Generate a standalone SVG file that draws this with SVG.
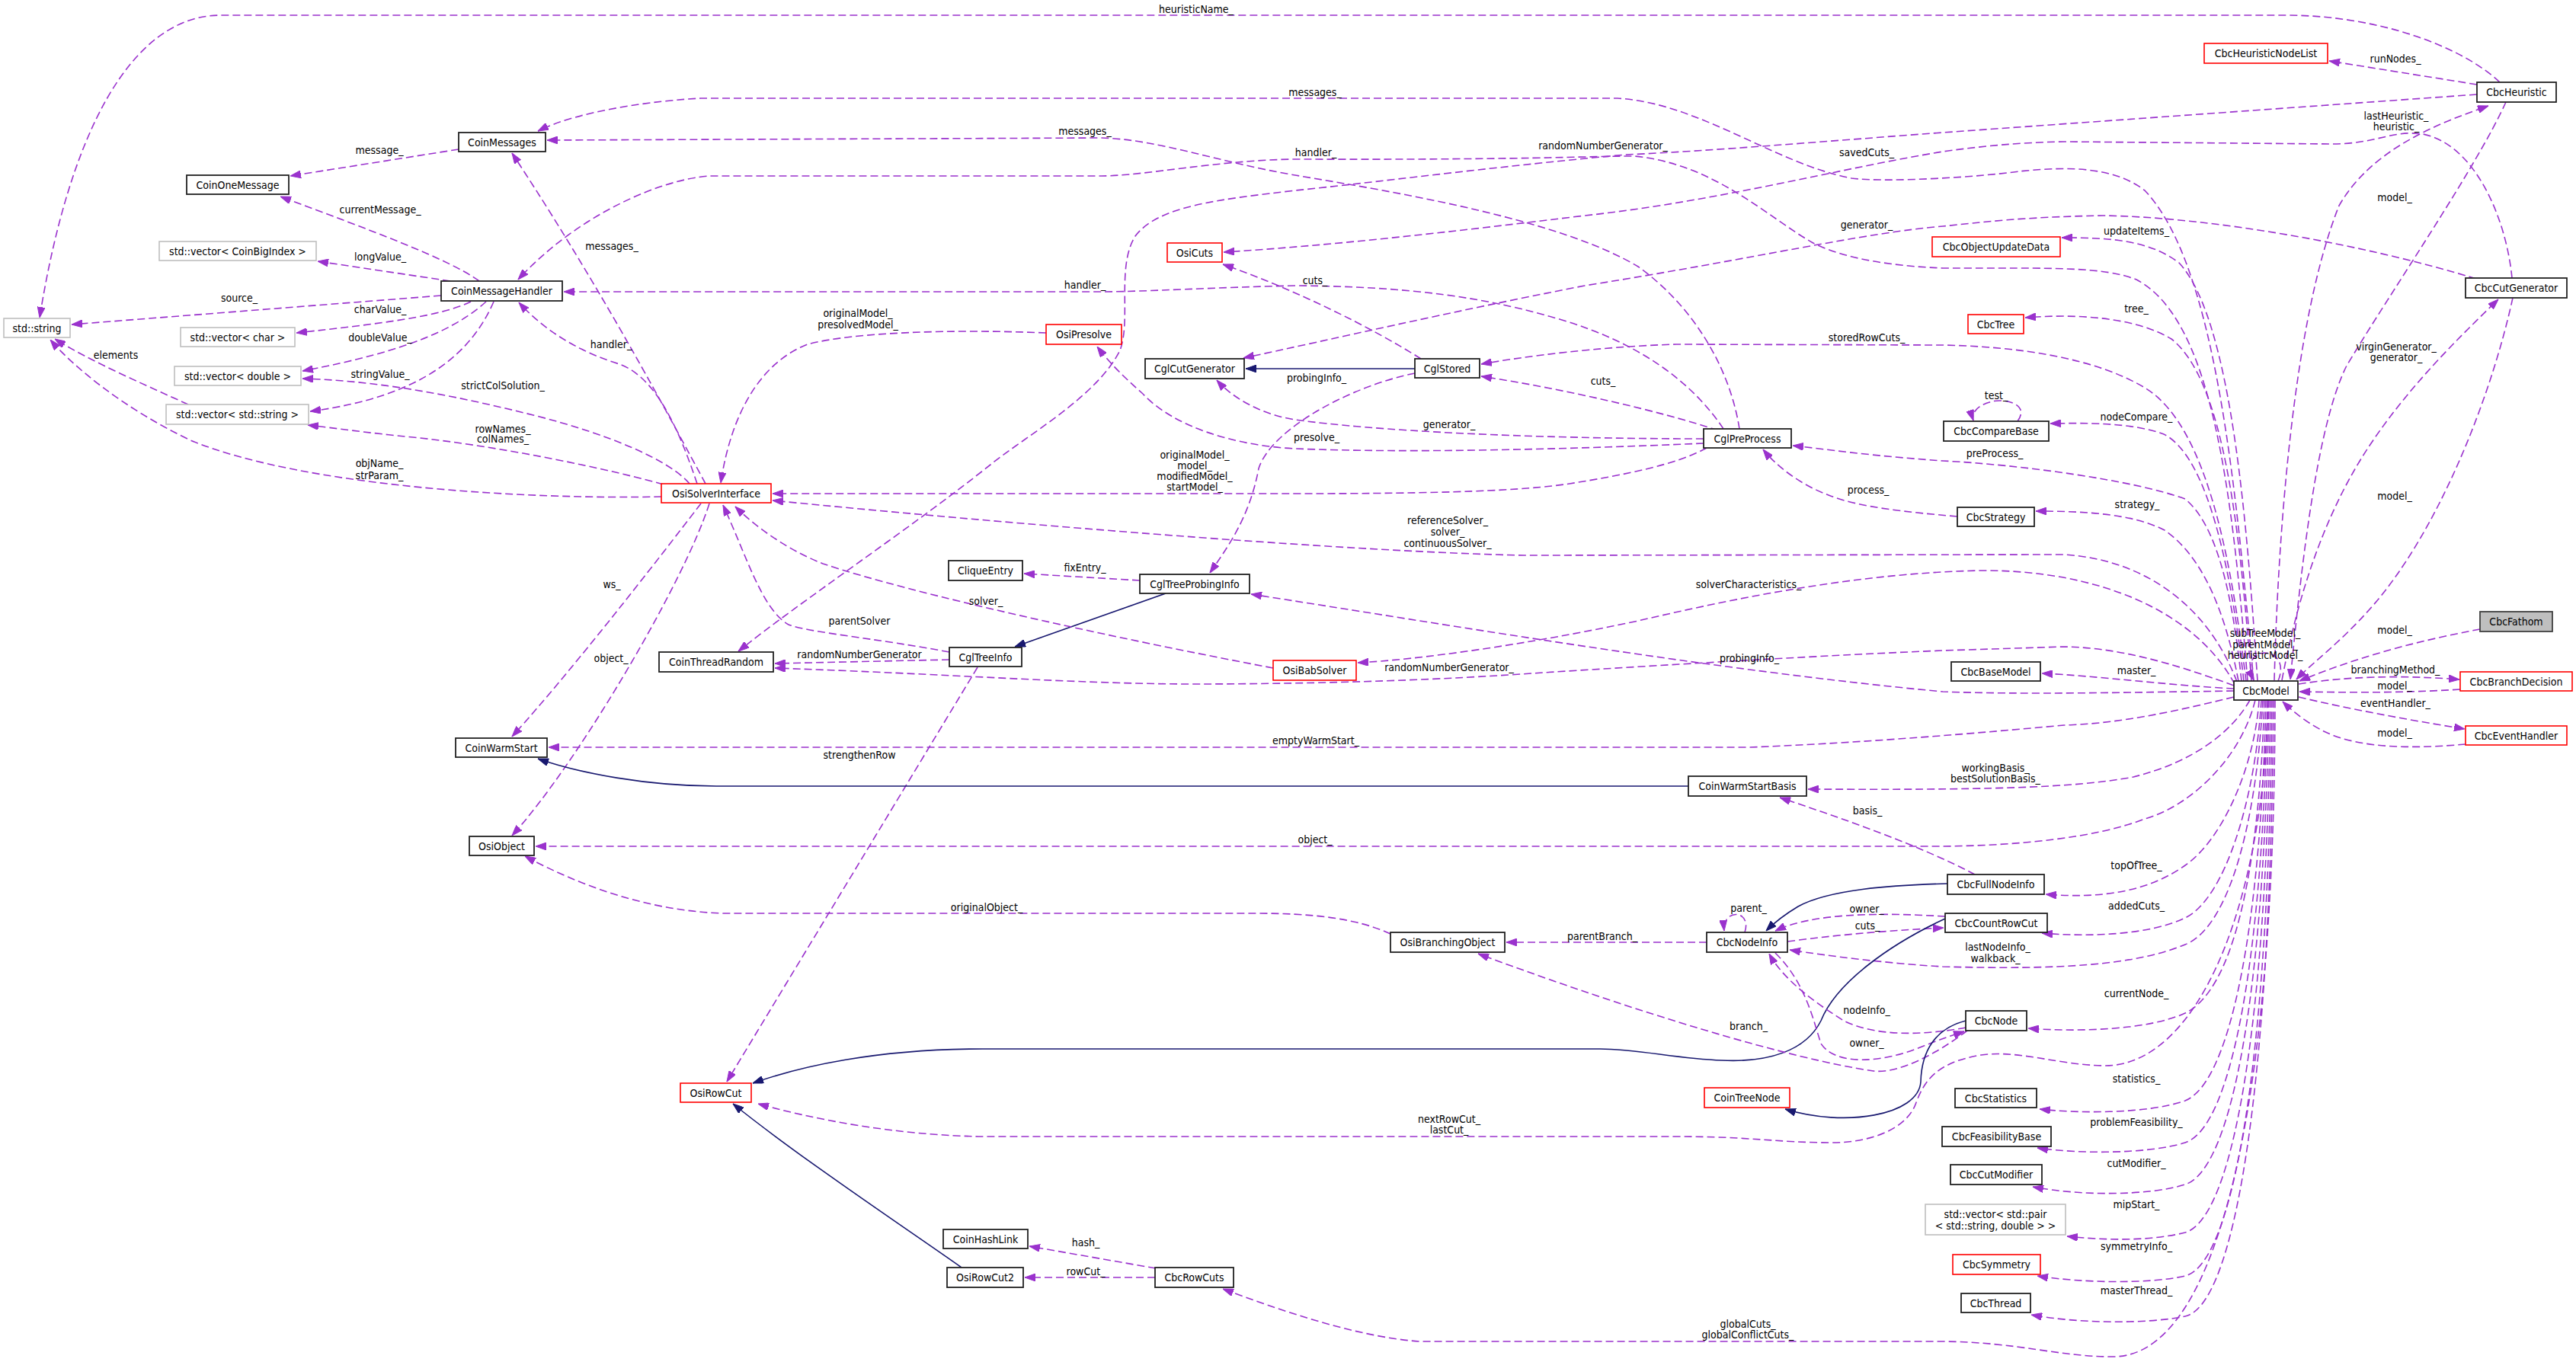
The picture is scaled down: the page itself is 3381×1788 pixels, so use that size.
<svg xmlns="http://www.w3.org/2000/svg" width="3381" height="1788" viewBox="0 0 3381 1788">
<defs>
<style>
text{font-family:'DejaVu Sans Condensed','DejaVu Sans',sans-serif;font-stretch:condensed;font-size:14px;text-anchor:middle;fill:#000}
.d{fill:none;stroke:#9a32cd;stroke-width:1.6;stroke-dasharray:10,5;marker-end:url(#ap)}
.n{fill:none;stroke:#191970;stroke-width:1.6;marker-end:url(#an)}
.b{fill:#fff;stroke:#222;stroke-width:1.8}
.r{fill:#fff;stroke:#ff0000;stroke-width:1.6}
.g{fill:#fff;stroke:#bfbfbf;stroke-width:1.6}
.f{fill:#bfbfbf;stroke:#404040;stroke-width:1.8}
</style>
<marker id="ap" viewBox="0 0 14 10" refX="14" refY="5" markerWidth="14" markerHeight="10" markerUnits="userSpaceOnUse" orient="auto"><path d="M0,0 L14,5 L0,10 z" fill="#9a32cd" stroke="#9a32cd"/></marker>
<marker id="an" viewBox="0 0 14 10" refX="14" refY="5" markerWidth="14" markerHeight="10" markerUnits="userSpaceOnUse" orient="auto"><path d="M0,0 L14,5 L0,10 z" fill="#191970" stroke="#191970"/></marker>
</defs>
<rect width="3381" height="1788" fill="#fff"/>
<g id="connectors">
<path class="d" d="M3281 108 C3230 60,3120 20,3000 20 L290 20 C170 20,90 180,52 417"/>
<path class="d" d="M3251 111 L3057 80"/>
<path class="d" d="M3251 124 L2550 174 C2400 185,2250 198,2134 203 C1950 220,1800 240,1700 250 C1600 262,1520 270,1490 310 C1465 350,1485 420,1470 460 C1440 520,1350 570,1300 610 C1200 690,1050 790,969 855"/>
<path class="d" d="M3297 365 C3290 290,3250 190,3180 176 C3140 170,3120 189,3060 189 L2709 186 C2650 187,2600 192,2550 199 C2420 220,2250 265,2080 283 C1900 305,1750 322,1606 331"/>
<path class="d" d="M3250 366 C3100 320,2900 285,2760 283 C2650 285,2600 292,2550 297 C2450 305,2300 340,2080 375 C1900 410,1750 445,1632 470"/>
<path class="d" d="M2958 894 C2935 650,2910 350,2815 250 C2770 215,2700 220,2650 225 C2600 232,2480 240,2430 234 C2330 215,2230 135,2123 129 L920 129 C860 132,760 145,706 172"/>
<path class="d" d="M2950 894 C2930 650,2905 420,2804 367 C2760 350,2700 352,2550 352 C2450 348,2400 330,2378 318 C2320 285,2250 215,2145 205 C2080 205,2000 210,1700 209 C1600 210,1500 231,1446 231 L931 231 C870 235,760 280,680 367"/>
<path class="d" d="M2963 894 C2950 700,2930 420,2860 345 C2820 315,2770 312,2706 312"/>
<path class="d" d="M2955 894 C2940 700,2920 500,2850 445 C2800 415,2720 412,2658 417"/>
<path class="d" d="M2948 894 C2930 750,2900 560,2815 509 C2750 470,2650 455,2550 453 L2200 452 C2100 455,2000 468,1944 478"/>
<path class="d" d="M2945 894 C2930 760,2900 600,2840 570 C2800 555,2740 555,2691 556"/>
<path class="d" d="M2942 894 C2930 780,2910 690,2868 655 C2800 630,2650 610,2550 605 C2450 598,2400 590,2353 585"/>
<path class="d" d="M2938 894 C2920 800,2890 730,2841 696 C2800 675,2740 671,2672 671"/>
<path class="d" d="M2936 895 C2900 800,2820 735,2709 728 L2000 729 C1800 725,1400 695,1014 657"/>
<path class="d" d="M2933 898 C2880 800,2750 748,2600 749 C2450 752,2300 780,2150 815 C2000 847,1860 866,1782 870"/>
<path class="d" d="M2932 907 C2800 909,2650 912,2550 908 C2250 880,1900 820,1642 780"/>
<path class="d" d="M2932 900 C2850 870,2780 850,2709 849 L2550 854 C2400 860,2200 872,2025 883 C1900 892,1750 898,1555 898 C1400 897,1250 885,1017 877"/>
<path class="d" d="M2932 904 C2850 900,2750 887,2680 884"/>
<path class="d" d="M2932 915 C2850 935,2780 950,2709 952 C2600 962,2450 975,2296 981 L720 981"/>
<path class="d" d="M2953 919 C2930 960,2880 1000,2800 1020 C2720 1035,2600 1037,2373 1036"/>
<path class="d" d="M2960 919 C2940 1000,2870 1060,2815 1075 C2750 1100,2650 1110,2550 1111 L703 1111"/>
<path class="d" d="M2965 919 C2960 1000,2920 1100,2868 1136 C2820 1170,2760 1180,2685 1174"/>
<path class="d" d="M2968 919 C2960 1050,2920 1180,2868 1205 C2820 1228,2740 1230,2680 1225"/>
<path class="d" d="M2970 919 C2960 1100,2920 1220,2868 1240 C2800 1268,2700 1273,2550 1269 C2480 1265,2400 1255,2349 1247"/>
<path class="d" d="M2972 919 C2965 1150,2930 1300,2868 1330 C2820 1352,2730 1355,2662 1350"/>
<path class="d" d="M2974 919 C2968 1200,2930 1420,2868 1445 C2820 1462,2730 1462,2677 1456"/>
<path class="d" d="M2976 919 C2970 1250,2930 1480,2868 1500 C2820 1515,2730 1515,2674 1507"/>
<path class="d" d="M2978 919 C2972 1300,2930 1535,2868 1555 C2820 1570,2730 1570,2668 1558"/>
<path class="d" d="M2980 919 C2975 1350,2930 1600,2868 1618 C2820 1630,2760 1628,2713 1623"/>
<path class="d" d="M2982 919 C2978 1400,2930 1660,2868 1675 C2820 1686,2730 1684,2674 1675"/>
<path class="d" d="M2984 919 C2980 1450,2930 1715,2868 1728 C2820 1738,2730 1738,2666 1726"/>
<path class="d" d="M2986 919 C2985 1500,2900 1782,2773 1781 C2700 1781,2650 1762,2550 1761 L1863 1761 C1780 1755,1680 1720,1605 1692"/>
<path class="d" d="M2977 919 C2970 1200,2880 1400,2762 1399 C2700 1398,2650 1378,2600 1385 C2540 1395,2525 1420,2514 1450 C2500 1485,2450 1500,2405 1500 C2330 1500,2300 1492,2200 1492 L1284 1492 C1200 1490,1100 1478,995 1449"/>
<path class="d" d="M2985 893 C2990 700,3010 420,3070 270 C3110 200,3190 165,3266 139"/>
<path class="d" d="M3289 134 C3250 220,3140 380,3080 480 C3040 560,3020 750,3006 892"/>
<path class="d" d="M2995 893 C3020 760,3060 660,3110 585 C3160 510,3220 450,3279 393"/>
<path class="d" d="M3298 391 C3270 520,3200 700,3110 800 C3070 845,3035 870,3014 892"/>
<path class="d" d="M3255 826 C3180 840,3100 860,3018 894"/>
<path class="d" d="M3017 898 C3080 888,3150 886,3228 892"/>
<path class="d" d="M3229 905 C3150 910,3080 909,3018 908"/>
<path class="d" d="M3017 915 C3080 930,3160 945,3235 957"/>
<path class="d" d="M3236 977 C3180 982,3100 985,3050 960 C3030 950,3010 935,2996 921"/>
<path class="d" d="M2990 894 C3010 845,2935 845,2958 893"/>
<path class="d" d="M2648 553 C2665 530,2630 523,2615 527 C2600 530,2586 540,2590 552"/>
<path class="d" d="M2569 678 C2500 672,2440 666,2400 650 C2360 635,2330 610,2314 590"/>
<path class="d" d="M2283 563 C2270 480,2220 400,2150 350 C2050 290,1850 255,1700 230 C1600 213,1520 183,1446 181 L718 184"/>
<path class="d" d="M2262 563 C2220 500,2150 450,2050 420 C1950 390,1850 376,1700 375 C1600 377,1500 383,1446 383 L740 383"/>
<path class="d" d="M2255 565 C2180 540,2050 510,1944 494"/>
<path class="d" d="M2236 576 C2000 576,1800 565,1700 551 C1660 545,1620 525,1597 499"/>
<path class="d" d="M2236 582 C2050 590,1850 595,1700 589 C1620 585,1540 560,1500 517 C1475 495,1455 475,1440 455"/>
<path class="d" d="M2240 588 C2200 610,2134 623,2060 635 C2000 644,1900 648,1700 648 L1014 648"/>
<path class="d" d="M1865 471 C1800 430,1700 380,1605 347"/>
<path class="n" d="M1857 484 L1635 484"/>
<path class="d" d="M1857 490 C1780 505,1670 560,1652 615 C1640 680,1610 720,1588 752"/>
<path class="n" d="M1530 779 L1332 849"/>
<path class="d" d="M1496 762 L1344 753"/>
<path class="d" d="M1246 856 C1150 838,1060 830,1035 820 C1000 800,980 730,949 663"/>
<path class="d" d="M1246 866 L1017 871"/>
<path class="d" d="M1283 876 L954 1420"/>
<path class="d" d="M1671 877 C1450 835,1200 780,1080 740 C1030 720,990 690,965 665"/>
<path class="d" d="M1373 437 C1250 432,1120 436,1060 452 C1000 475,960 540,946 634"/>
<path class="d" d="M926 635 C880 550,790 380,672 201"/>
<path class="d" d="M915 635 C890 560,860 495,813 478 C770 465,720 440,681 397"/>
<path class="d" d="M905 635 C880 605,800 570,700 545 C600 520,500 500,397 497"/>
<path class="d" d="M885 640 C800 615,650 585,542 574 C480 568,440 562,404 558"/>
<path class="d" d="M868 652 C700 656,400 640,250 578 C160 535,95 480,66 446"/>
<path class="d" d="M920 661 C890 700,760 870,672 967"/>
<path class="d" d="M931 661 C900 760,760 1000,672 1097"/>
<path class="d" d="M602 196 L381 231"/>
<path class="d" d="M629 369 C590 340,480 300,368 258"/>
<path class="d" d="M591 369 L417 343"/>
<path class="d" d="M579 388 L94 426"/>
<path class="d" d="M618 396 C580 415,500 425,389 437"/>
<path class="d" d="M638 396 C600 430,540 460,397 487"/>
<path class="d" d="M648 396 C620 460,560 520,407 540"/>
<path class="d" d="M247 531 C190 505,120 475,72 445"/>
<path class="n" d="M2216 1032 L940 1032 C850 1032,760 1015,706 996"/>
<path class="d" d="M2592 1148 C2520 1110,2420 1075,2336 1047"/>
<path class="n" d="M2556 1160 C2480 1162,2400 1168,2360 1190 C2340 1202,2328 1212,2318 1222"/>
<path class="d" d="M2240 1237 L1977 1237"/>
<path class="d" d="M2290 1224 C2300 1194,2260 1192,2263 1222"/>
<path class="d" d="M2346 1236 C2420 1226,2490 1221,2551 1218"/>
<path class="d" d="M2553 1203 C2470 1198,2380 1198,2330 1222"/>
<path class="n" d="M2553 1206 C2480 1240,2410 1290,2390 1340 C2370 1380,2320 1395,2260 1392 C2200 1390,2150 1377,2100 1377 L1290 1377 C1150 1377,1050 1400,988 1422"/>
<path class="d" d="M2580 1349 C2520 1360,2460 1360,2420 1340 C2380 1315,2340 1285,2322 1252"/>
<path class="d" d="M2330 1251 C2370 1290,2380 1340,2390 1370 C2410 1400,2470 1395,2520 1375 C2545 1365,2560 1360,2578 1354"/>
<path class="d" d="M2582 1353 C2540 1385,2490 1410,2459 1406 C2350 1390,2150 1330,1940 1252"/>
<path class="n" d="M2580 1340 C2540 1350,2522 1380,2521 1420 C2518 1465,2420 1480,2343 1456"/>
<path class="d" d="M1825 1226 C1780 1205,1720 1199,1650 1199 L950 1199 C850 1196,760 1162,689 1124"/>
<path class="n" d="M1262 1664 C1200 1620,1050 1520,962 1449"/>
<path class="d" d="M1517 1665 L1351 1636"/>
<path class="d" d="M1516 1677 L1345 1677"/>
<text x="1570" y="17">heuristicName_</text>
<text x="3144" y="82">runNodes_</text>
<text x="1726" y="126">messages_</text>
<text x="3145" y="157">lastHeuristic_</text>
<text x="3145" y="171">heuristic_</text>
<text x="1424" y="177">messages_</text>
<text x="498" y="202">message_</text>
<text x="2104" y="196">randomNumberGenerator_</text>
<text x="1727" y="205">handler_</text>
<text x="2450" y="205">savedCuts_</text>
<text x="3143" y="264">model_</text>
<text x="499" y="280">currentMessage_</text>
<text x="2450" y="300">generator_</text>
<text x="2804" y="308">updateItems_</text>
<text x="803" y="328">messages_</text>
<text x="499" y="342">longValue_</text>
<text x="1726" y="373">cuts_</text>
<text x="1424" y="379">handler_</text>
<text x="314" y="396">source_</text>
<text x="2804" y="410">tree_</text>
<text x="499" y="411">charValue_</text>
<text x="1126" y="416">originalModel_</text>
<text x="1126" y="431">presolvedModel_</text>
<text x="499" y="448">doubleValue_</text>
<text x="2450" y="448">storedRowCuts_</text>
<text x="802" y="457">handler_</text>
<text x="3145" y="460">virginGenerator_</text>
<text x="3145" y="474">generator_</text>
<text x="152" y="471">elements</text>
<text x="499" y="496">stringValue_</text>
<text x="1728" y="501">probingInfo_</text>
<text x="2104" y="505">cuts_</text>
<text x="660" y="511">strictColSolution_</text>
<text x="2620" y="524">test_</text>
<text x="2804" y="552">nodeCompare_</text>
<text x="1902" y="562">generator_</text>
<text x="660" y="568">rowNames_</text>
<text x="660" y="581">colNames_</text>
<text x="1728" y="579">presolve_</text>
<text x="2618" y="600">preProcess_</text>
<text x="1568" y="602">originalModel_</text>
<text x="1568" y="616">model_</text>
<text x="1568" y="630">modifiedModel_</text>
<text x="1568" y="644">startModel_</text>
<text x="498" y="613">objName_</text>
<text x="498" y="629">strParam_</text>
<text x="2452" y="648">process_</text>
<text x="3143" y="656">model_</text>
<text x="2805" y="667">strategy_</text>
<text x="1900" y="688">referenceSolver_</text>
<text x="1900" y="703">solver_</text>
<text x="1900" y="718">continuousSolver_</text>
<text x="1424" y="750">fixEntry_</text>
<text x="803" y="772">ws_</text>
<text x="2295" y="772">solverCharacteristics_</text>
<text x="1294" y="794">solver_</text>
<text x="1128" y="820">parentSolver</text>
<text x="3143" y="832">model_</text>
<text x="2973" y="836">subTreeModel_</text>
<text x="2973" y="851">parentModel_</text>
<text x="2973" y="865">heuristicModel_</text>
<text x="1128" y="864">randomNumberGenerator</text>
<text x="2296" y="869">probingInfo_</text>
<text x="802" y="869">object_</text>
<text x="1902" y="881">randomNumberGenerator_</text>
<text x="3144" y="884">branchingMethod_</text>
<text x="2804" y="885">master_</text>
<text x="3143" y="905">model_</text>
<text x="3144" y="928">eventHandler_</text>
<text x="3143" y="967">model_</text>
<text x="1727" y="977">emptyWarmStart_</text>
<text x="1128" y="996">strengthenRow</text>
<text x="2619" y="1013">workingBasis_</text>
<text x="2619" y="1027">bestSolutionBasis_</text>
<text x="2451" y="1069">basis_</text>
<text x="1726" y="1107">object_</text>
<text x="2804" y="1141">topOfTree_</text>
<text x="2804" y="1194">addedCuts_</text>
<text x="1295" y="1196">originalObject_</text>
<text x="2295" y="1197">parent_</text>
<text x="2450" y="1198">owner_</text>
<text x="2451" y="1220">cuts_</text>
<text x="2103" y="1234">parentBranch_</text>
<text x="2622" y="1248">lastNodeInfo_</text>
<text x="2619" y="1263">walkback_</text>
<text x="2804" y="1309">currentNode_</text>
<text x="2450" y="1331">nodeInfo_</text>
<text x="2295" y="1352">branch_</text>
<text x="2450" y="1374">owner_</text>
<text x="2804" y="1421">statistics_</text>
<text x="1902" y="1474">nextRowCut_</text>
<text x="1902" y="1488">lastCut_</text>
<text x="2804" y="1478">problemFeasibility_</text>
<text x="2804" y="1532">cutModifier_</text>
<text x="2804" y="1586">mipStart_</text>
<text x="1425" y="1636">hash_</text>
<text x="2804" y="1641">symmetryInfo_</text>
<text x="1425" y="1674">rowCut_</text>
<text x="2804" y="1699">masterThread_</text>
<text x="2294" y="1743">globalCuts_</text>
<text x="2294" y="1757">globalConflictCuts_</text>
</g>
<g id="CbcFathom"><rect class="f" x="3255" y="803" width="95" height="26"/><text x="3302.5" y="821">CbcFathom</text></g>
<g id="CbcModel"><rect class="b" x="2932" y="894" width="84" height="25"/><text x="2974" y="911.5">CbcModel</text></g>
<g id="CbcHeuristic"><rect class="b" x="3251" y="108" width="104" height="26"/><text x="3303" y="126">CbcHeuristic</text></g>
<g id="CbcHeuristicNodeList"><rect class="r" x="2893" y="57" width="162" height="26"/><text x="2974" y="75">CbcHeuristicNodeList</text></g>
<g id="CbcCutGenerator"><rect class="b" x="3236" y="365" width="133" height="26"/><text x="3302.5" y="383">CbcCutGenerator</text></g>
<g id="CbcObjectUpdateData"><rect class="r" x="2536" y="311" width="168" height="26"/><text x="2620" y="329">CbcObjectUpdateData</text></g>
<g id="CbcTree"><rect class="r" x="2583" y="413" width="73" height="25"/><text x="2619.5" y="430.5">CbcTree</text></g>
<g id="CbcCompareBase"><rect class="b" x="2551" y="553" width="138" height="26"/><text x="2620" y="571">CbcCompareBase</text></g>
<g id="CbcStrategy"><rect class="b" x="2569" y="666" width="101" height="25"/><text x="2619.5" y="683.5">CbcStrategy</text></g>
<g id="CbcBaseModel"><rect class="b" x="2561" y="869" width="117" height="25"/><text x="2619.5" y="886.5">CbcBaseModel</text></g>
<g id="CbcBranchDecision"><rect class="r" x="3229" y="882" width="147" height="25"/><text x="3302.5" y="899.5">CbcBranchDecision</text></g>
<g id="CbcEventHandler"><rect class="r" x="3236" y="953" width="133" height="25"/><text x="3302.5" y="970.5">CbcEventHandler</text></g>
<g id="CbcFullNodeInfo"><rect class="b" x="2556" y="1148" width="127" height="26"/><text x="2619.5" y="1166">CbcFullNodeInfo</text></g>
<g id="CbcCountRowCut"><rect class="b" x="2553" y="1199" width="134" height="25"/><text x="2620" y="1216.5">CbcCountRowCut</text></g>
<g id="CbcNode"><rect class="b" x="2580" y="1327" width="80" height="26"/><text x="2620" y="1345">CbcNode</text></g>
<g id="CbcStatistics"><rect class="b" x="2566" y="1429" width="107" height="25"/><text x="2619.5" y="1446.5">CbcStatistics</text></g>
<g id="CbcFeasibilityBase"><rect class="b" x="2549" y="1479" width="143" height="26"/><text x="2620.5" y="1497">CbcFeasibilityBase</text></g>
<g id="CbcCutModifier"><rect class="b" x="2560" y="1529" width="120" height="26"/><text x="2620" y="1547">CbcCutModifier</text></g>
<g id="StdVectorPair"><rect class="g" x="2527" y="1581" width="184" height="40"/><text x="2619" y="1598.5">std::vector&lt; std::pair</text><text x="2619" y="1613.5">&lt; std::string, double &gt; &gt;</text></g>
<g id="CbcSymmetry"><rect class="r" x="2563" y="1647" width="115" height="26"/><text x="2620.5" y="1665">CbcSymmetry</text></g>
<g id="CbcThread"><rect class="b" x="2574" y="1698" width="91" height="25"/><text x="2619.5" y="1715.5">CbcThread</text></g>
<g id="CoinWarmStartBasis"><rect class="b" x="2216" y="1019" width="155" height="26"/><text x="2293.5" y="1037">CoinWarmStartBasis</text></g>
<g id="CbcNodeInfo"><rect class="b" x="2240" y="1224" width="106" height="26"/><text x="2293" y="1242">CbcNodeInfo</text></g>
<g id="OsiBranchingObject"><rect class="b" x="1825" y="1224" width="150" height="26"/><text x="1900" y="1242">OsiBranchingObject</text></g>
<g id="CoinTreeNode"><rect class="r" x="2237" y="1428" width="112" height="26"/><text x="2293" y="1446">CoinTreeNode</text></g>
<g id="CglPreProcess"><rect class="b" x="2236" y="563" width="115" height="25"/><text x="2293.5" y="580.5">CglPreProcess</text></g>
<g id="CglStored"><rect class="b" x="1857" y="471" width="85" height="25"/><text x="1899.5" y="488.5">CglStored</text></g>
<g id="CglCutGenerator"><rect class="b" x="1503" y="471" width="130" height="26"/><text x="1568" y="489">CglCutGenerator</text></g>
<g id="OsiCuts"><rect class="r" x="1532" y="319" width="72" height="25"/><text x="1568" y="336.5">OsiCuts</text></g>
<g id="OsiPresolve"><rect class="r" x="1373" y="426" width="99" height="26"/><text x="1422.5" y="444">OsiPresolve</text></g>
<g id="CglTreeProbingInfo"><rect class="b" x="1496" y="754" width="144" height="25"/><text x="1568" y="771.5">CglTreeProbingInfo</text></g>
<g id="CliqueEntry"><rect class="b" x="1245" y="736" width="97" height="26"/><text x="1293.5" y="754">CliqueEntry</text></g>
<g id="CglTreeInfo"><rect class="b" x="1246" y="850" width="95" height="25"/><text x="1293.5" y="867.5">CglTreeInfo</text></g>
<g id="OsiBabSolver"><rect class="r" x="1671" y="867" width="109" height="26"/><text x="1725.5" y="885">OsiBabSolver</text></g>
<g id="OsiSolverInterface"><rect class="r" x="868" y="635" width="144" height="25"/><text x="940" y="652.5">OsiSolverInterface</text></g>
<g id="CoinThreadRandom"><rect class="b" x="865" y="856" width="150" height="26"/><text x="940" y="874">CoinThreadRandom</text></g>
<g id="CoinMessages"><rect class="b" x="602" y="174" width="114" height="25"/><text x="659" y="191.5">CoinMessages</text></g>
<g id="CoinOneMessage"><rect class="b" x="245" y="230" width="134" height="25"/><text x="312" y="247.5">CoinOneMessage</text></g>
<g id="CoinMessageHandler"><rect class="b" x="579" y="369" width="159" height="26"/><text x="658.5" y="387">CoinMessageHandler</text></g>
<g id="StdVectorCoinBigIndex"><rect class="g" x="209" y="317" width="206" height="25"/><text x="312" y="334.5">std::vector&lt; CoinBigIndex &gt;</text></g>
<g id="StdString"><rect class="g" x="5" y="418" width="87" height="25"/><text x="48.5" y="435.5">std::string</text></g>
<g id="StdVectorChar"><rect class="g" x="237" y="430" width="150" height="25"/><text x="312" y="447.5">std::vector&lt; char &gt;</text></g>
<g id="StdVectorDouble"><rect class="g" x="229" y="481" width="166" height="25"/><text x="312" y="498.5">std::vector&lt; double &gt;</text></g>
<g id="StdVectorString"><rect class="g" x="218" y="531" width="187" height="26"/><text x="311.5" y="549">std::vector&lt; std::string &gt;</text></g>
<g id="CoinWarmStart"><rect class="b" x="598" y="969" width="120" height="25"/><text x="658" y="986.5">CoinWarmStart</text></g>
<g id="OsiObject"><rect class="b" x="616" y="1098" width="85" height="25"/><text x="658.5" y="1115.5">OsiObject</text></g>
<g id="OsiRowCut"><rect class="r" x="893" y="1422" width="93" height="25"/><text x="939.5" y="1439.5">OsiRowCut</text></g>
<g id="CoinHashLink"><rect class="b" x="1238" y="1614" width="111" height="25"/><text x="1293.5" y="1631.5">CoinHashLink</text></g>
<g id="OsiRowCut2"><rect class="b" x="1243" y="1664" width="100" height="26"/><text x="1293" y="1682">OsiRowCut2</text></g>
<g id="CbcRowCuts"><rect class="b" x="1516" y="1664" width="103" height="26"/><text x="1567.5" y="1682">CbcRowCuts</text></g>
</svg>
